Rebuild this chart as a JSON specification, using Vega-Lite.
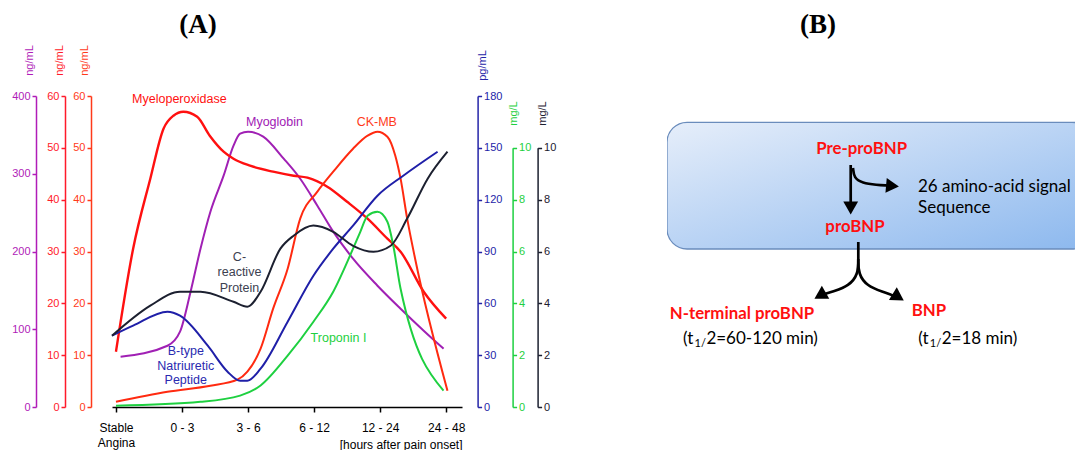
{
  "$schema": "https://vega.github.io/schema/vega-lite/v6.json",
  "background": "white",
  "padding": {"left": 11, "top": 10, "right": 0, "bottom": 0},
  "config": {
    "view": {"stroke": null},
    "font": "Liberation Sans",
    "axis": {"grid": false, "labelFont": "Liberation Sans", "titleFont": "Liberation Sans"}
  },
  "spacing": 111,
  "datasets": {
    "curves": [
      {"s": "MPO", "i": 0, "v": 10.67}, {"s": "MPO", "i": 0.26, "v": 30.54}, {"s": "MPO", "i": 0.52, "v": 44.05}, {"s": "MPO", "i": 0.72, "v": 53.69}, {"s": "MPO", "i": 0.87, "v": 56.2}, {"s": "MPO", "i": 1.02, "v": 56.97}, {"s": "MPO", "i": 1.23, "v": 56.0}, {"s": "MPO", "i": 1.42, "v": 52.34}, {"s": "MPO", "i": 1.63, "v": 49.26}, {"s": "MPO", "i": 1.78, "v": 47.9}, {"s": "MPO", "i": 2.03, "v": 46.55}, {"s": "MPO", "i": 2.38, "v": 45.4}, {"s": "MPO", "i": 2.69, "v": 44.62}, {"s": "MPO", "i": 2.9, "v": 44.24}, {"s": "MPO", "i": 3.2, "v": 42.5}, {"s": "MPO", "i": 3.5, "v": 39.6}, {"s": "MPO", "i": 3.81, "v": 36.33}, {"s": "MPO", "i": 4.11, "v": 32.47}, {"s": "MPO", "i": 4.31, "v": 29.96}, {"s": "MPO", "i": 4.66, "v": 22.24}, {"s": "MPO", "i": 5.0, "v": 17.04},
      {"s": "CKMB", "i": 0, "v": 1.02}, {"s": "CKMB", "i": 0.78, "v": 2.95}, {"s": "CKMB", "i": 1.43, "v": 4.11}, {"s": "CKMB", "i": 1.84, "v": 5.27}, {"s": "CKMB", "i": 1.99, "v": 6.81}, {"s": "CKMB", "i": 2.19, "v": 11.25}, {"s": "CKMB", "i": 2.38, "v": 18.97}, {"s": "CKMB", "i": 2.6, "v": 26.68}, {"s": "CKMB", "i": 2.79, "v": 36.33}, {"s": "CKMB", "i": 3.05, "v": 41.54}, {"s": "CKMB", "i": 3.29, "v": 45.4}, {"s": "CKMB", "i": 3.59, "v": 49.83}, {"s": "CKMB", "i": 3.81, "v": 52.34}, {"s": "CKMB", "i": 3.96, "v": 53.11}, {"s": "CKMB", "i": 4.11, "v": 52.15}, {"s": "CKMB", "i": 4.23, "v": 48.48}, {"s": "CKMB", "i": 4.31, "v": 44.05}, {"s": "CKMB", "i": 4.41, "v": 36.33}, {"s": "CKMB", "i": 4.53, "v": 28.61}, {"s": "CKMB", "i": 5.02, "v": 3.14},
      {"s": "MYO", "i": 0.07, "v": 64.7}, {"s": "MYO", "i": 0.78, "v": 78.8}, {"s": "MYO", "i": 0.97, "v": 96.9}, {"s": "MYO", "i": 1.13, "v": 148.3}, {"s": "MYO", "i": 1.28, "v": 203.6}, {"s": "MYO", "i": 1.43, "v": 251.2}, {"s": "MYO", "i": 1.63, "v": 297.5}, {"s": "MYO", "i": 1.78, "v": 336.1}, {"s": "MYO", "i": 1.88, "v": 351.5}, {"s": "MYO", "i": 2.0, "v": 354.1}, {"s": "MYO", "i": 2.23, "v": 347.7}, {"s": "MYO", "i": 2.54, "v": 319.4}, {"s": "MYO", "i": 2.79, "v": 293.6}, {"s": "MYO", "i": 3.05, "v": 258.9}, {"s": "MYO", "i": 3.29, "v": 225.5}, {"s": "MYO", "i": 3.59, "v": 190.7}, {"s": "MYO", "i": 3.96, "v": 156.0}, {"s": "MYO", "i": 4.31, "v": 126.4}, {"s": "MYO", "i": 4.66, "v": 98.1}, {"s": "MYO", "i": 4.96, "v": 75.0},
      {"s": "CRP", "i": -0.06, "v": 2.75}, {"s": "CRP", "i": 0.52, "v": 3.91}, {"s": "CRP", "i": 0.97, "v": 4.45}, {"s": "CRP", "i": 1.28, "v": 4.45}, {"s": "CRP", "i": 1.78, "v": 4.06}, {"s": "CRP", "i": 1.99, "v": 3.87}, {"s": "CRP", "i": 2.19, "v": 4.45}, {"s": "CRP", "i": 2.49, "v": 6.11}, {"s": "CRP", "i": 2.69, "v": 6.61}, {"s": "CRP", "i": 2.99, "v": 7.0}, {"s": "CRP", "i": 3.29, "v": 6.76}, {"s": "CRP", "i": 3.59, "v": 6.22}, {"s": "CRP", "i": 3.9, "v": 5.99}, {"s": "CRP", "i": 4.16, "v": 6.22}, {"s": "CRP", "i": 4.41, "v": 7.27}, {"s": "CRP", "i": 4.72, "v": 8.81}, {"s": "CRP", "i": 5.02, "v": 9.85},
      {"s": "BNP", "i": -0.06, "v": 41.27}, {"s": "BNP", "i": 0.26, "v": 47.05}, {"s": "BNP", "i": 0.78, "v": 55.16}, {"s": "BNP", "i": 0.97, "v": 52.84}, {"s": "BNP", "i": 1.39, "v": 35.48}, {"s": "BNP", "i": 1.69, "v": 20.43}, {"s": "BNP", "i": 1.88, "v": 15.22}, {"s": "BNP", "i": 1.99, "v": 15.22}, {"s": "BNP", "i": 2.19, "v": 22.17}, {"s": "BNP", "i": 2.6, "v": 49.37}, {"s": "BNP", "i": 2.99, "v": 75.99}, {"s": "BNP", "i": 3.29, "v": 91.62}, {"s": "BNP", "i": 3.59, "v": 104.93}, {"s": "BNP", "i": 3.96, "v": 122.3}, {"s": "BNP", "i": 4.35, "v": 133.87}, {"s": "BNP", "i": 4.87, "v": 147.76},
      {"s": "TNI", "i": 0, "v": 0.05}, {"s": "TNI", "i": 1.28, "v": 0.2}, {"s": "TNI", "i": 1.88, "v": 0.44}, {"s": "TNI", "i": 2.19, "v": 0.83}, {"s": "TNI", "i": 2.6, "v": 1.98}, {"s": "TNI", "i": 2.99, "v": 3.29}, {"s": "TNI", "i": 3.29, "v": 4.45}, {"s": "TNI", "i": 3.59, "v": 6.11}, {"s": "TNI", "i": 3.7, "v": 6.76}, {"s": "TNI", "i": 3.81, "v": 7.38}, {"s": "TNI", "i": 3.96, "v": 7.53}, {"s": "TNI", "i": 4.11, "v": 7.15}, {"s": "TNI", "i": 4.2, "v": 6.22}, {"s": "TNI", "i": 4.31, "v": 4.56}, {"s": "TNI", "i": 4.96, "v": 0.63}
    ],
    "arrows": [
      {"seg": "down", "o": 0, "x": 183.7, "y": 69}, {"seg": "down", "o": 1, "x": 183.7, "y": 106},
      {"seg": "sig", "o": 0, "x": 186, "y": 72}, {"seg": "sig", "o": 1, "x": 187, "y": 82}, {"seg": "sig", "o": 2, "x": 195, "y": 87}, {"seg": "sig", "o": 3, "x": 210, "y": 89}, {"seg": "sig", "o": 4, "x": 220, "y": 89.5},
      {"seg": "left", "o": 0, "x": 191.3, "y": 146}, {"seg": "left", "o": 1, "x": 191.3, "y": 163}, {"seg": "left", "o": 2, "x": 191.3, "y": 178}, {"seg": "left", "o": 3, "x": 182, "y": 190}, {"seg": "left", "o": 4, "x": 166, "y": 195.5}, {"seg": "left", "o": 5, "x": 158, "y": 198},
      {"seg": "right", "o": 0, "x": 191.3, "y": 163}, {"seg": "right", "o": 1, "x": 191.3, "y": 178}, {"seg": "right", "o": 2, "x": 200, "y": 190}, {"seg": "right", "o": 3, "x": 216, "y": 196}, {"seg": "right", "o": 4, "x": 226, "y": 199.5}
    ],
    "heads": [
      {"x": 183.7, "y": 112, "dir": 90},
      {"x": 225.5, "y": 90, "dir": 5},
      {"x": 153, "y": 199.5, "dir": 150},
      {"x": 231.3, "y": 201, "dir": 32}
    ]
  },
  "hconcat": [
    {
      "width": 350,
      "height": 311,
      "title": {"text": "(A)", "font": "Liberation Serif", "fontSize": 27, "fontWeight": "bold", "color": "black", "anchor": "middle", "dx": -89, "offset": 6},
      "data": {"name": "curves"},
      "encoding": {
        "x": {
          "field": "i", "type": "quantitative",
          "scale": {"domain": [-0.06, 5.24], "nice": false, "zero": false},
          "axis": {
            "values": [0, 1, 2, 3, 4, 5],
            "labelExpr": "datum.value == 0 ? ['Stable', 'Angina'] : datum.value == 1 ? '0 - 3' : datum.value == 2 ? '3 - 6' : datum.value == 3 ? '6 - 12' : datum.value == 4 ? '12 - 24' : '24 - 48'",
            "labelFontSize": 12, "labelColor": "black", "labelLineHeight": 15, "labelPadding": 10, "labelFlush": false, "labelOverlap": false,
            "domainColor": "black", "domainWidth": 1.5, "tickColor": "black", "tickWidth": 1.5, "tickSize": 5,
            "title": "[hours after pain onset]", "titleFontSize": 12, "titleFontWeight": "normal", "titleColor": "black",
            "titleAnchor": "end", "titleAlign": "right", "titleBaseline": "middle", "titleX": 350, "titleY": 37
          }
        }
      },
      "resolve": {"scale": {"y": "independent"}},
      "layer": [
        {
          "encoding": {"y": {"field": "v", "type": "quantitative", "scale": {"domain": [0, 400], "nice": false},
            "axis": {"orient": "left", "offset": 76, "values": [0, 100, 200, 300, 400], "title": "ng/mL",
              "domainColor": "#b01cb8", "tickColor": "#b01cb8", "labelColor": "#b01cb8", "titleColor": "#b01cb8",
              "domainWidth": 1.5, "tickWidth": 1.5, "tickSize": 4, "labelFontSize": 11, "labelPadding": 2,
              "titleFontSize": 11, "titleFontWeight": "normal", "titleAngle": 270, "titleAlign": "center", "titleBaseline": "middle", "titleX": -7, "titleY": -36}}},
          "layer": [
            {"transform": [{"filter": "datum.s == 'MYO'"}], "mark": {"type": "line", "color": "#a020b4", "strokeWidth": 2, "interpolate": "monotone"}, "encoding": {}},
            {"data": {"values": [{"i": 2.4, "v": 367, "t": "Myoglobin"}]}, "mark": {"type": "text", "color": "#a020b4", "fontSize": 12.5}, "encoding": {"text": {"field": "t"}}}
          ]
        },
        {
          "encoding": {"y": {"field": "v", "type": "quantitative", "scale": {"domain": [0, 60], "nice": false},
            "axis": {"orient": "left", "offset": 47, "values": [0, 10, 20, 30, 40, 50, 60], "title": "ng/mL",
              "domainColor": "#ff1a2a", "tickColor": "#ff1a2a", "labelColor": "#ff1a2a", "titleColor": "#ff1a2a",
              "domainWidth": 1.5, "tickWidth": 1.5, "tickSize": 4, "labelFontSize": 11, "labelPadding": 2,
              "titleFontSize": 11, "titleFontWeight": "normal", "titleAngle": 270, "titleAlign": "center", "titleBaseline": "middle", "titleX": -5.5, "titleY": -36}}},
          "layer": [
            {"transform": [{"filter": "datum.s == 'MPO'"}], "mark": {"type": "line", "color": "#ff1010", "strokeWidth": 2.4, "interpolate": "monotone"}, "encoding": {}},
            {"data": {"values": [{"i": 0.96, "v": 59.5, "t": "Myeloperoxidase"}]}, "mark": {"type": "text", "color": "#ff1010", "fontSize": 12.5}, "encoding": {"text": {"field": "t"}}}
          ]
        },
        {
          "encoding": {"y": {"field": "v", "type": "quantitative", "scale": {"domain": [0, 60], "nice": false},
            "axis": {"orient": "left", "offset": 21, "values": [0, 10, 20, 30, 40, 50, 60], "title": "ng/mL",
              "domainColor": "#ff3a1a", "tickColor": "#ff3a1a", "labelColor": "#ff3a1a", "titleColor": "#ff3a1a",
              "domainWidth": 1.5, "tickWidth": 1.5, "tickSize": 4, "labelFontSize": 11, "labelPadding": 2,
              "titleFontSize": 11, "titleFontWeight": "normal", "titleAngle": 270, "titleAlign": "center", "titleBaseline": "middle", "titleX": -6.5, "titleY": -36}}},
          "layer": [
            {"transform": [{"filter": "datum.s == 'CKMB'"}], "mark": {"type": "line", "color": "#ff2a10", "strokeWidth": 2, "interpolate": "monotone"}, "encoding": {}},
            {"data": {"values": [{"i": 3.95, "v": 55.0, "t": "CK-MB"}]}, "mark": {"type": "text", "color": "#ff3a1a", "fontSize": 12.5}, "encoding": {"text": {"field": "t"}}}
          ]
        },
        {
          "encoding": {"y": {"field": "v", "type": "quantitative", "scale": {"domain": [0, 180], "nice": false},
            "axis": {"orient": "right", "offset": 15.6, "values": [0, 30, 60, 90, 120, 150, 180], "title": "pg/mL",
              "domainColor": "#2424a8", "tickColor": "#2424a8", "labelColor": "#2424a8", "titleColor": "#2424a8",
              "domainWidth": 1.5, "tickWidth": 1.5, "tickSize": 4, "labelFontSize": 11, "labelPadding": 2,
              "titleFontSize": 11, "titleFontWeight": "normal", "titleAngle": 270, "titleAlign": "center", "titleBaseline": "middle", "titleX": 5, "titleY": -31}}},
          "layer": [
            {"transform": [{"filter": "datum.s == 'BNP'"}], "mark": {"type": "line", "color": "#1f1fa8", "strokeWidth": 2, "interpolate": "monotone"}, "encoding": {}},
            {"data": {"values": [{"i": 1.057, "v": 32.5, "t": "B-type"}, {"i": 1.057, "v": 23.9, "t": "Natriuretic"}, {"i": 1.057, "v": 15.8, "t": "Peptide"}]}, "mark": {"type": "text", "color": "#2a2ab0", "fontSize": 12.5}, "encoding": {"text": {"field": "t"}}}
          ]
        },
        {
          "encoding": {"y": {"field": "v", "type": "quantitative", "scale": {"domain": [0, 12], "nice": false},
            "axis": {"orient": "right", "offset": 50.6, "values": [0, 2, 4, 6, 8, 10], "title": "mg/L",
              "domainColor": "#1ed040", "tickColor": "#1ed040", "labelColor": "#1ed040", "titleColor": "#1ed040",
              "domainWidth": 1.5, "domainDash": [259.2, 80], "tickWidth": 1.5, "tickSize": 4, "labelFontSize": 11, "labelPadding": 2,
              "titleFontSize": 11, "titleFontWeight": "normal", "titleAngle": 270, "titleAlign": "center", "titleBaseline": "middle", "titleX": 0.5, "titleY": 17}}},
          "layer": [
            {"transform": [{"filter": "datum.s == 'TNI'"}], "mark": {"type": "line", "color": "#1ed040", "strokeWidth": 2, "interpolate": "monotone"}, "encoding": {}},
            {"data": {"values": [{"i": 3.37, "v": 2.67, "t": "Troponin I"}]}, "mark": {"type": "text", "color": "#1ed040", "fontSize": 12.5}, "encoding": {"text": {"field": "t"}}}
          ]
        },
        {
          "encoding": {"y": {"field": "v", "type": "quantitative", "scale": {"domain": [0, 12], "nice": false},
            "axis": {"orient": "right", "offset": 75.6, "values": [0, 2, 4, 6, 8, 10], "title": "mg/L",
              "domainColor": "#1c2030", "tickColor": "#1c2030", "labelColor": "#1c2030", "titleColor": "#1c2030",
              "domainWidth": 1.5, "domainDash": [259.2, 80], "tickWidth": 1.5, "tickSize": 4, "labelFontSize": 11, "labelPadding": 2,
              "titleFontSize": 11, "titleFontWeight": "normal", "titleAngle": 270, "titleAlign": "center", "titleBaseline": "middle", "titleX": 4.5, "titleY": 17}}},
          "layer": [
            {"transform": [{"filter": "datum.s == 'CRP'"}], "mark": {"type": "line", "color": "#1c2030", "strokeWidth": 2, "interpolate": "monotone"}, "encoding": {}},
            {"data": {"values": [{"i": 1.87, "v": 5.8, "t": "C-"}, {"i": 1.87, "v": 5.22, "t": "reactive"}, {"i": 1.87, "v": 4.6, "t": "Protein"}]}, "mark": {"type": "text", "color": "#3c4150", "fontSize": 12.5}, "encoding": {"text": {"field": "t"}}}
          ]
        }
      ]
    },
    {
      "width": 408,
      "height": 311,
      "title": {"text": "(B)", "font": "Liberation Serif", "fontSize": 27, "fontWeight": "bold", "color": "black", "anchor": "middle", "dx": -53, "offset": 57},
      "encoding": {
        "x": {"field": "x", "type": "quantitative", "scale": {"domain": [0, 408], "nice": false, "zero": false}, "axis": null},
        "y": {"field": "y", "type": "quantitative", "scale": {"domain": [0, 311], "nice": false, "zero": false, "reverse": true}, "axis": null}
      },
      "layer": [
        {
          "data": {"values": [{"x": 0, "x2": 425, "y": 26.3, "y2": 153}]},
          "mark": {"type": "rect", "clip": true, "cornerRadius": 20, "stroke": "#6a8cbc", "strokeWidth": 1.3,
            "fill": {"gradient": "linear", "x1": 0, "y1": 0, "x2": 1, "y2": 1, "stops": [{"offset": 0, "color": "#e6eefa"}, {"offset": 1, "color": "#8cb8ee"}]}},
          "encoding": {"x2": {"field": "x2"}, "y2": {"field": "y2"}}
        },
        {
          "data": {"name": "arrows"},
          "mark": {"type": "line", "color": "black", "strokeWidth": 2.7, "interpolate": "basis"},
          "encoding": {"detail": {"field": "seg"}, "order": {"field": "o"}}
        },
        {
          "data": {"name": "heads"},
          "mark": {"type": "point", "shape": "triangle-right", "filled": true, "color": "black", "size": 220, "opacity": 1},
          "encoding": {"angle": {"field": "dir", "type": "quantitative", "scale": null}}
        },
        {
          "data": {"values": [{"x": 194.7, "y": 53, "t": "Pre-proBNP"}, {"x": 188, "y": 131, "t": "proBNP"}, {"x": 75, "y": 218, "t": "N-terminal proBNP"}, {"x": 262, "y": 215, "t": "BNP"}]},
          "mark": {"type": "text", "font": "Lato", "fontWeight": "bold", "fontSize": 16.8, "color": "#ff1010"},
          "encoding": {"text": {"field": "t"}}
        },
        {
          "data": {"values": [{"x": 251, "y": 91, "t": "26 amino-acid signal"}, {"x": 251, "y": 112, "t": "Sequence"}, {"x": 16, "y": 243, "t": "(t"}, {"x": 39.4, "y": 243, "t": "2=60-120 min)"}, {"x": 251.3, "y": 243, "t": "(t"}, {"x": 274.7, "y": 243, "t": "2=18 min)"}]},
          "mark": {"type": "text", "font": "Lato", "fontSize": 17, "color": "black", "align": "left"},
          "encoding": {"text": {"field": "t"}}
        },
        {
          "data": {"values": [{"x": 27.5, "y": 247.5, "t": "1/"}, {"x": 262.8, "y": 247.5, "t": "1/"}]},
          "mark": {"type": "text", "font": "Lato", "fontSize": 11, "color": "black", "align": "left"},
          "encoding": {"text": {"field": "t"}}
        }
      ]
    }
  ]
}
